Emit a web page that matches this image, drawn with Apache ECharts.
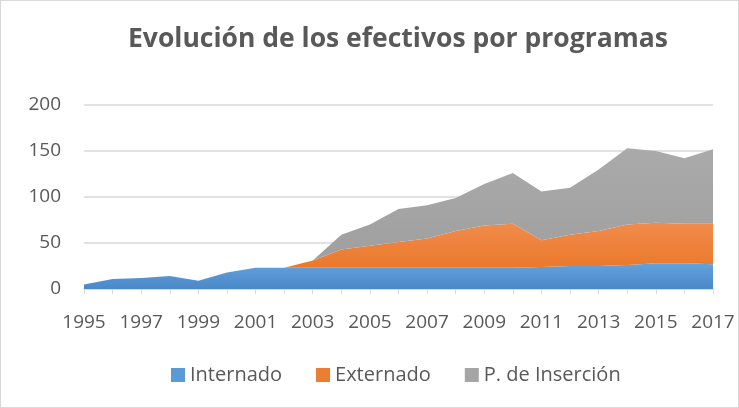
<!DOCTYPE html>
<html>
<head>
<meta charset="utf-8">
<script src="https://cdn.jsdelivr.net/npm/echarts@6/dist/echarts.min.js"></script>
<style>
  html, body { margin: 0; padding: 0; background: #fff; }
  #chart { width: 739px; height: 408px; box-sizing: border-box; border: 1px solid #d9d9d9; }
</style>
</head>
<body>
<div id="chart"></div>
<script>
const years = ['1995', '1996', '1997', '1998', '1999', '2000', '2001', '2002', '2003', '2004', '2005', '2006',
  '2007', '2008', '2009', '2010', '2011', '2012', '2013', '2014', '2015', '2016', '2017']
const internado = [5, 11, 12, 14, 9, 18, 23, 23, 23, 23, 23, 23, 23, 23, 23, 23, 24, 25, 25, 26, 28, 28, 27]
const externado = [0, 0, 0, 0, 0, 0, 0, 0, 8, 20, 24, 28, 32, 40, 46, 48, 29, 34, 38, 44, 44, 43, 44]
const insercion = [0, 0, 0, 0, 0, 0, 0, 0, 0, 16, 23, 36, 36, 36, 45, 55, 53, 51, 67, 83, 78, 71, 81]
const yTicks = [0, 50, 100, 150, 200]

const chart = echarts.init(document.getElementById('chart'))

function grad(top, bottom) {
  return new echarts.graphic.LinearGradient(0, 0, 0, 1, [
    { offset: 0, color: top },
    { offset: 1, color: bottom },
  ])
}

const font = 'Open Sans, sans-serif'

chart.setOption({
  animation: false,
  title: {
    text: 'Evolución de los efectivos por programas',
    left: 122,
    top: 20,
    textStyle: { fontFamily: font, fontSize: 26.5, fontWeight: 'bold', color: '#595959' },
  },
  legend: {
    left: 165,
    bottom: 17,
    itemWidth: 14,
    itemHeight: 14,
    itemGap: 34,
    icon: 'rect',
    textStyle: { fontFamily: font, fontSize: 20, color: '#595959' },
    data: ['Internado', 'Externado', 'P. de Inserción'],
  },
  grid: { left: 83, right: 25, top: 104, bottom: 118 },
  xAxis: {
    type: 'category',
    data: years,
    boundaryGap: false,
    axisLine: { lineStyle: { color: '#d9d9d9', width: 1.5 } },
    axisTick: { show: true, interval: 0, length: 5, lineStyle: { color: '#d9d9d9' } },
    axisLabel: { interval: 1, color: '#595959', fontFamily: font, fontSize: 19, margin: 24 },
    splitLine: { show: false },
  },
  yAxis: {
    type: 'value',
    min: yTicks[0],
    max: yTicks[yTicks.length - 1],
    interval: 50,
    axisLine: { show: false },
    axisTick: { show: false },
    axisLabel: { color: '#595959', fontFamily: font, fontSize: 19, margin: 23 },
    splitLine: { lineStyle: { color: '#d9d9d9', width: 1.5 } },
  },
  series: [
    {
      name: 'Internado',
      type: 'line',
      stack: 'total',
      data: internado,
      symbol: 'none',
      lineStyle: { width: 0 },
      itemStyle: { color: '#5b9bd5' },
      areaStyle: { color: grad('#62a2dd', '#4a88c8'), opacity: 1 },
    },
    {
      name: 'Externado',
      type: 'line',
      stack: 'total',
      data: externado,
      symbol: 'none',
      lineStyle: { width: 0 },
      itemStyle: { color: '#ed7d31' },
      areaStyle: { color: grad('#f18b4c', '#e8721e'), opacity: 1 },
    },
    {
      name: 'P. de Inserción',
      type: 'line',
      stack: 'total',
      data: insercion,
      symbol: 'none',
      lineStyle: { width: 0 },
      itemStyle: { color: '#a5a5a5' },
      areaStyle: { color: grad('#aaaaaa', '#9d9d9d'), opacity: 1 },
    },
  ],
})
</script>
</body>
</html>
